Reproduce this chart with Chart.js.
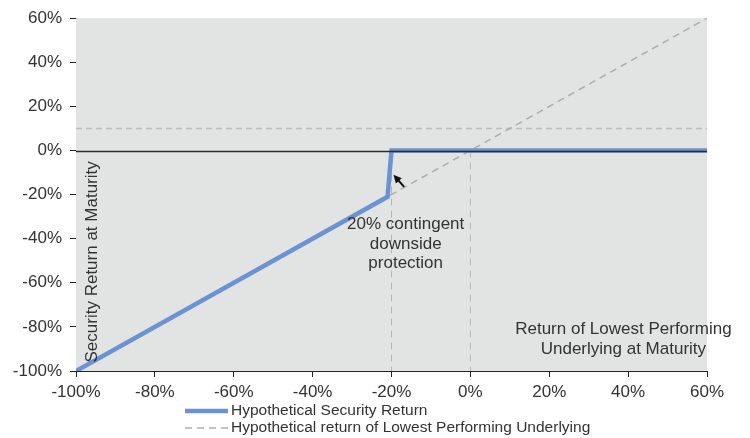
<!DOCTYPE html>
<html>
<head>
<meta charset="utf-8">
<script src="https://cdn.jsdelivr.net/npm/chart.js@4.4.1/dist/chart.umd.min.js"></script>
<style>
  html, body { margin: 0; padding: 0; background: #ffffff; }
  #wrap { width: 750px; height: 438px; position: relative; }
</style>
</head>
<body>
<div id="wrap"><canvas id="payoff"></canvas></div>
<script>
// Underlying return (x) vs security return (y), in percent
const securityX = [-100, -21, -20, 60];
const securityY = [-100, -21, 0, 0];
const underlyingX = [-100, 60];
const underlyingY = [-100, 60];
const capLevel = 10;            // dashed horizontal reference line
const barrierLevels = [-20, 0]; // dashed vertical reference lines
const tickValues = [-100, -80, -60, -40, -20, 0, 20, 40, 60];

const legendLabels = ['Hypothetical Security Return', 'Hypothetical return of Lowest Performing Underlying'];
const blue = '#6a92d4';
const grey = '#adadad';
const textColor = '#333333';
const font = '"Liberation Sans", Arial, sans-serif';

function toPoints(xs, ys) {
    return xs.map((x, i) => ({ x: x, y: ys[i] }));
}

// Chart.js paints the first dataset last, so the security line goes first
const datasets = [{
    label: legendLabels[0],
    data: toPoints(securityX, securityY),
    borderColor: blue, borderWidth: 4.5, borderJoinStyle: 'miter',
    pointRadius: 0, fill: false, inLegend: true
}, {
    label: legendLabels[1],
    data: toPoints(underlyingX, underlyingY),
    borderColor: grey, borderWidth: 1.5, borderDash: [7, 5],
    pointRadius: 0, fill: false, inLegend: true
}, {
    label: '',
    data: [{ x: -100, y: capLevel }, { x: 60, y: capLevel }],
    borderColor: '#bdbdbd', borderWidth: 1.5, borderDash: [6, 4],
    pointRadius: 0, fill: false, inLegend: false
}].concat(barrierLevels.map(b => ({
    label: '',
    data: [{ x: b, y: 0 }, { x: b, y: -100 }],
    borderColor: '#b5b5b5', borderWidth: 1, borderDash: [7, 5],
    pointRadius: 0, fill: false, inLegend: false
})));

// gray plot background, zero line, notes and legend
const decorations = {
    id: 'decorations',
    beforeDatasetsDraw(chart) {
        const { ctx, chartArea: a } = chart;
        ctx.save();
        ctx.fillStyle = '#e2e3e3';
        ctx.fillRect(a.left, a.top, a.right - a.left, a.bottom - a.top);
        ctx.restore();
    },
    afterDatasetsDraw(chart) {
        const { ctx, chartArea: a, scales: { x, y } } = chart;
        ctx.save();

        // zero line sits on top of the security line
        const y0 = Math.round(y.getPixelForValue(0)) + 0.5;
        ctx.strokeStyle = '#2b2b2b';
        ctx.lineWidth = 1.5;
        ctx.beginPath();
        ctx.moveTo(a.left, y0);
        ctx.lineTo(a.right, y0);
        ctx.stroke();

        // arrow pointing at the barrier
        const tx = x.getPixelForValue(-19.5), ty = y.getPixelForValue(-11);
        const sx = x.getPixelForValue(-16.8), sy = y.getPixelForValue(-16.5);
        const ang = Math.atan2(ty - sy, tx - sx);
        ctx.strokeStyle = '#111';
        ctx.fillStyle = '#111';
        ctx.lineWidth = 2;
        ctx.beginPath();
        ctx.moveTo(sx, sy);
        ctx.lineTo(tx - 5 * Math.cos(ang), ty - 5 * Math.sin(ang));
        ctx.stroke();
        ctx.beginPath();
        ctx.moveTo(tx, ty);
        ctx.lineTo(tx - 9 * Math.cos(ang - 0.45), ty - 9 * Math.sin(ang - 0.45));
        ctx.lineTo(tx - 9 * Math.cos(ang + 0.45), ty - 9 * Math.sin(ang + 0.45));
        ctx.closePath();
        ctx.fill();

        ctx.fillStyle = textColor;
        ctx.font = '17px ' + font;
        ctx.textAlign = 'center';
        ctx.textBaseline = 'middle';
        const nx = x.getPixelForValue(-16.4);
        const ny = y.getPixelForValue(-33.5);
        ['20% contingent', 'downside', 'protection'].forEach((t, i) => ctx.fillText(t, nx, ny + i * 19.5));

        const rx = x.getPixelForValue(38.8);
        const ry = y.getPixelForValue(-81);
        ['Return of Lowest Performing', 'Underlying at Maturity'].forEach((t, i) => ctx.fillText(t, rx, ry + i * 20));

        // y-axis title, inside the plot
        ctx.translate(a.left + 16, y.getPixelForValue(-50.5));
        ctx.rotate(-Math.PI / 2);
        ctx.fillText('Security Return at Maturity', 0, 0);
        ctx.restore();
    },
    afterDraw(chart) {
        const { ctx } = chart;
        const items = chart.data.datasets.filter(d => d.inLegend);
        ctx.save();
        ctx.font = '15.5px ' + font;
        ctx.textBaseline = 'middle';
        ctx.fillStyle = textColor;
        items.forEach((d, i) => {
            const ly = 411 + i * 17;
            ctx.strokeStyle = d.borderColor;
            ctx.lineWidth = d.borderWidth;
            ctx.setLineDash(d.borderDash || []);
            ctx.beginPath();
            ctx.moveTo(185, ly);
            ctx.lineTo(228, ly);
            ctx.stroke();
            ctx.setLineDash([]);
            ctx.fillText(d.label, 231, ly);
        });
        ctx.restore();
    }
};

const axisCommon = {
    type: 'linear',
    min: -100,
    max: 60,
    grid: { drawOnChartArea: false, drawTicks: true, tickLength: 6, color: '#222' },
    border: { color: '#222', width: 1 },
    afterBuildTicks(scale) { scale.ticks = tickValues.map(v => ({ value: v })); },
    ticks: {
        color: textColor,
        font: { family: font, size: 17 },
        callback: v => v + '%'
    }
};

new Chart(document.getElementById('payoff'), {
    type: 'line',
    data: { datasets: datasets },
    options: {
        responsive: true,
        maintainAspectRatio: false,
        animation: false,
        parsing: false,
        layout: { padding: { top: 17, right: 43, left: 0, bottom: 0 } },
        plugins: { legend: { display: false }, tooltip: { enabled: false } },
        scales: {
            x: Object.assign({}, axisCommon, {
                position: 'bottom',
                ticks: Object.assign({}, axisCommon.ticks, { padding: 5, maxRotation: 0 }),
                afterFit(scale) { scale.height = 67; }
            }),
            y: Object.assign({}, axisCommon, {
                ticks: Object.assign({}, axisCommon.ticks, { padding: 8 }),
                afterFit(scale) { scale.width = 76; }
            })
        }
    },
    plugins: [decorations]
});
</script>
</body>
</html>
